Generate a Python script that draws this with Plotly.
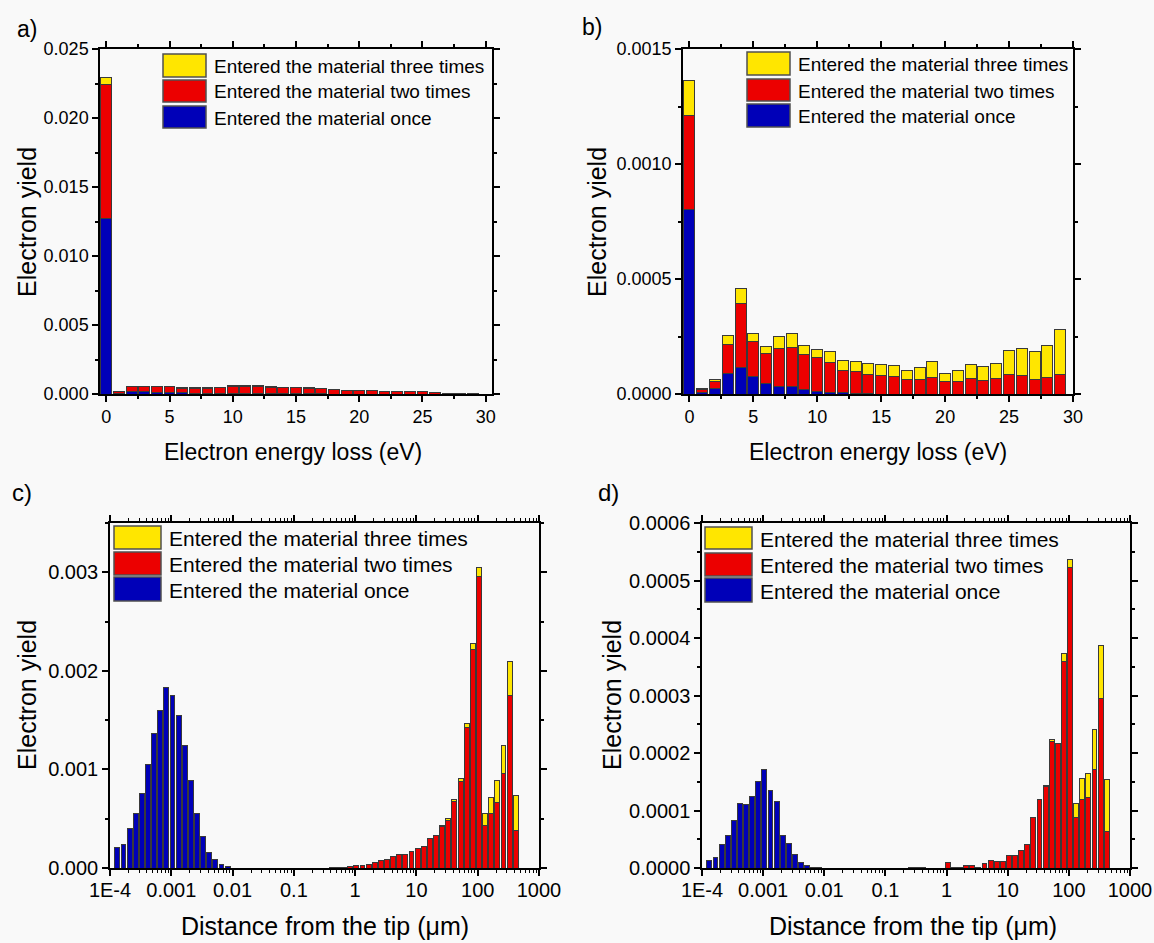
import math
import plotly.graph_objects as go

# ---------------- data ----------------
# Panels a / b : energy loss bins (eV)
energy_bins = list(range(30))

a_once = [0.0127, 0.00003, 0.00015, 0.00015, 0.00013, 0.00010, 0.00008, 0.00006, 0.00005, 0.00004,
          0.00004, 0.00003, 0.00003, 0.00002, 0.00001, 0.00001, 0.00001, 0.00001, 0.0, 0.0,
          0.0, 0.0, 0.0, 0.0, 0.0, 0.0, 0.0, 0.0, 0.0, 0.0]
a_twice = [0.00976, 0.00015, 0.00036, 0.00038, 0.00040, 0.00043, 0.00035, 0.00037, 0.00038, 0.00043,
           0.00051, 0.00054, 0.00054, 0.00048, 0.00043, 0.00043, 0.00039, 0.00037, 0.00030, 0.00026,
           0.00024, 0.00024, 0.00018, 0.00018, 0.00018, 0.00018, 0.00011, 0.00004, 0.00001, 0.00001]
a_thrice = [0.00044, 0.0, 0.00001, 0.00001, 0.00001, 0.00001, 0.00001, 0.00001, 0.00001, 0.00001,
            0.00005, 0.00003, 0.00003, 0.00002, 0.00002, 0.00002, 0.00006, 0.00002, 0.00002, 0.00002,
            0.00002, 0.00002, 0.00002, 0.00002, 0.00002, 0.00002, 0.00001, 0.00001, 0.0, 0.0]

b_once = [0.000801, 0.000005, 0.000026, 0.0000913, 0.000117, 0.0000754, 0.0000478, 0.0000319, 0.0000319, 0.0000188,
          0.0000116, 0.000007, 0.000006, 0.000002, 0.000001, 0.0, 0.0, 0.0, 0.0, 0.0,
          0.0, 0.0, 0.0, 0.0, 0.0, 0.0, 0.0, 0.0, 0.0, 0.0]
b_twice = [0.000408, 0.000015, 0.000029, 0.000122, 0.000276, 0.000153, 0.000130, 0.000168, 0.000172, 0.000152,
           0.000145, 0.000132, 0.000098, 0.0000966, 0.000083, 0.0000797, 0.0000768, 0.0000623, 0.0000652, 0.0000739,
           0.0000565, 0.0000522, 0.0000681, 0.000058, 0.0000667, 0.0000855, 0.0000797, 0.0000623, 0.0000696, 0.0000855]
b_thrice = [0.000155, 0.000006, 0.00001, 0.000041, 0.000066, 0.000034, 0.000029, 0.000048, 0.00006, 0.000041,
            0.000036, 0.000044, 0.000041, 0.0000424, 0.000048, 0.0000483, 0.0000482, 0.0000417, 0.0000508, 0.0000671,
            0.0000334, 0.0000488, 0.0000599, 0.000062, 0.0000653, 0.0001015, 0.0001163, 0.0001207, 0.0001424, 0.0001945]

# Panels c / d : distance bins, 0.1 decade wide; bin index k -> centre exponent
BIN0_EXP = -3.88
BIN_STEP = 0.1

c_once_bins = list(range(0, 19))
c_once = [0.00021, 0.000243, 0.000405, 0.000554, 0.00076, 0.00105, 0.001365, 0.0016, 0.001834, 0.001747,
          0.00155, 0.001243, 0.000889, 0.000554, 0.000321, 0.000162, 0.000088, 0.000034, 0.00002]
c_twice_bins = list(range(35, 66))
c_twice = [0.000003, 0.000007, 0.00001, 0.000017, 0.000027, 0.00003, 0.00004, 0.000057, 0.000078, 0.000088,
           0.000118, 0.000132, 0.000142, 0.000169, 0.000193, 0.00022, 0.0003, 0.000328, 0.000422, 0.000486,
           0.000672, 0.000878, 0.001422, 0.00222, 0.002953, 0.000436, 0.000551, 0.000666, 0.000963, 0.00175,
           0.000382]
c_thrice_bins = list(range(53, 66))
c_thrice = [0.000014, 0.000021, 0.000027, 0.000027, 0.000048, 0.00006, 0.0001, 0.000115, 0.000169, 0.000219,
            0.000277, 0.00035, 0.000358]

d_once_bins = list(range(0, 19))
d_once = [0.0000128, 0.0000186, 0.0000412, 0.0000562, 0.0000823, 0.000112, 0.000111, 0.000125, 0.000151, 0.000171,
          0.000135, 0.000115, 0.0000562, 0.0000423, 0.0000243, 0.0000099, 0.000004, 0.0000017, 0.0000006]
d_twice_bins = list(range(33, 66))
d_twice = [0.0000005, 0.0000005, 0.0000005, 0.0, 0.0, 0.0, 0.0000099, 0.0000006, 0.0000006, 0.0000035,
           0.0000052, 0.0000017, 0.000007, 0.0000128, 0.000011, 0.000011, 0.0000226, 0.0000226, 0.0000301, 0.0000412,
           0.000087, 0.000119, 0.000142, 0.00022, 0.000216, 0.000359, 0.000523, 0.000087, 0.000119, 0.000123,
           0.000171, 0.000294, 0.0000638]
d_thrice_bins = list(range(55, 66))
d_thrice = [0.000002, 0.000004, 0.0, 0.000014, 0.000014, 0.000025, 0.000036, 0.000041, 0.00007, 0.000093,
            0.00009]

series_names = ["Entered the material three times", "Entered the material two times", "Entered the material once"]
decade_labels = ["1E-4", "0.001", "0.01", "0.1", "1", "10", "100", "1000"]
decade_exps = [-4, -3, -2, -1, 0, 1, 2, 3]

# ---------------- style ----------------
W, H = 1154, 943
YELLOW = "#FFE600"
RED = "#EC0000"
BLUE = "#0000B8"
EDGE = "#3a3a3a"
FONT = "Liberation Sans, Arial, sans-serif"
BG = "#f9f9f9"


def px(x):
    return x / W


def py(y):
    return 1 - y / H


def bin_x(ks):
    return [round(BIN0_EXP + BIN_STEP * k, 3) for k in ks]


fig = go.Figure()

def add_bar(x, y, color, xa, ya, width):
    fig.add_trace(go.Bar(x=x, y=y, marker=dict(color=color, line=dict(color=EDGE, width=1)),
                         width=width, xaxis=xa, yaxis=ya, showlegend=False))

# panel a
add_bar(energy_bins, a_once, BLUE, "x", "y", 0.86)
add_bar(energy_bins, a_twice, RED, "x", "y", 0.86)
add_bar(energy_bins, a_thrice, YELLOW, "x", "y", 0.86)
# panel b
add_bar(energy_bins, b_once, BLUE, "x2", "y2", 0.86)
add_bar(energy_bins, b_twice, RED, "x2", "y2", 0.86)
add_bar(energy_bins, b_thrice, YELLOW, "x2", "y2", 0.86)
# panel c
add_bar(bin_x(c_once_bins), c_once, BLUE, "x3", "y3", 0.08)
add_bar(bin_x(c_twice_bins), c_twice, RED, "x3", "y3", 0.08)
add_bar(bin_x(c_thrice_bins), c_thrice, YELLOW, "x3", "y3", 0.08)
# panel d
add_bar(bin_x(d_once_bins), d_once, BLUE, "x4", "y4", 0.08)
add_bar(bin_x(d_twice_bins), d_twice, RED, "x4", "y4", 0.08)
add_bar(bin_x(d_thrice_bins), d_thrice, YELLOW, "x4", "y4", 0.08)


def axis_common(size):
    return dict(showline=True, linecolor="black", linewidth=1.5, mirror="allticks",
                ticks="outside", ticklen=6, tickwidth=1.5, tickcolor="black",
                showgrid=False, zeroline=False, automargin=False,
                tickfont=dict(family=FONT, size=size, color="black"))


def minor_lin(dt):
    return dict(dtick=dt, ticklen=3, ticks="outside", tickcolor="black", tickwidth=1.5)


minor_log = [e + math.log10(m) for e in range(-4, 3) for m in range(2, 10)]
minor_logd = dict(tickmode="array", tickvals=minor_log, ticklen=3, ticks="outside",
                  tickcolor="black", tickwidth=1.2)

TOP_TICK = 18
BOT_TICK = 20

layout_axes = {}
# a
layout_axes["xaxis"] = dict(axis_common(TOP_TICK), domain=[px(100), px(492)], anchor="y", range=[-0.5, 30.5],
                            tickmode="linear", tick0=0, dtick=5, minor=minor_lin(2.5))
layout_axes["yaxis"] = dict(axis_common(TOP_TICK), domain=[py(394), py(49)], anchor="x", range=[0, 0.025],
                            tickmode="linear", tick0=0, dtick=0.005, tickformat=".3f", minor=minor_lin(0.0025))
# b
layout_axes["xaxis2"] = dict(axis_common(TOP_TICK), domain=[px(683), px(1073)], anchor="y2", range=[-0.5, 30],
                             tickmode="linear", tick0=0, dtick=5, minor=minor_lin(2.5))
layout_axes["yaxis2"] = dict(axis_common(TOP_TICK), domain=[py(394), py(49)], anchor="x2", range=[0, 0.0015],
                             tickmode="linear", tick0=0, dtick=0.0005, tickformat=".4f", minor=minor_lin(0.00025))
# c
layout_axes["xaxis3"] = dict(axis_common(BOT_TICK), domain=[px(110), px(539)], anchor="y3", range=[-4, 3],
                             tickmode="array", tickvals=decade_exps, ticktext=decade_labels, minor=minor_logd,
                             ticklabelstandoff=-3)
layout_axes["yaxis3"] = dict(axis_common(BOT_TICK), domain=[py(868), py(523)], anchor="x3", range=[0, 0.0035],
                             tickmode="linear", tick0=0, dtick=0.001, tickformat=".3f", minor=minor_lin(0.0005))
# d
layout_axes["xaxis4"] = dict(axis_common(BOT_TICK), domain=[px(702), px(1130)], anchor="y4", range=[-4, 3],
                             tickmode="array", tickvals=decade_exps, ticktext=decade_labels, minor=minor_logd,
                             ticklabelstandoff=-3)
layout_axes["yaxis4"] = dict(axis_common(BOT_TICK), domain=[py(868), py(523)], anchor="x4", range=[0, 0.0006],
                             tickmode="linear", tick0=0, dtick=0.0001, tickformat=".4f", minor=minor_lin(0.00005))

shapes = []
annotations = []

def add_text(x, y, text, size, xanchor="center", angle=0):
    annotations.append(dict(x=px(x), y=py(y), xref="paper", yref="paper", text=text, showarrow=False,
                            font=dict(family=FONT, size=size, color="black"), xanchor=xanchor,
                            yanchor="middle", textangle=angle))

# legends (swatch x0, x1, rows y-ranges, text x, font size)
legend_specs = [
    (163, 206, [(54, 77), (80, 102), (106, 128)], 212, 19),
    (747, 790, [(52, 75), (79, 101), (104, 127)], 796, 19),
    (114, 161, [(526, 549), (552, 575), (577, 601)], 167, 21),
    (705, 752, [(527, 549), (553, 576), (578, 602)], 758, 21),
]
for x0, x1, rows, tx, fs in legend_specs:
    for (y0, y1), col, name in zip(rows, [YELLOW, RED, BLUE], series_names):
        shapes.append(dict(type="rect", xref="paper", yref="paper", x0=px(x0), x1=px(x1), y0=py(y1), y1=py(y0),
                           fillcolor=col, line=dict(color="#505050", width=1.5)))
        add_text(tx, (y0 + y1) / 2 + 1, name, fs, xanchor="left")

# panel labels
add_text(27, 29, "a)", 23)
add_text(592, 27, "b)", 23)
add_text(22, 492, "c)", 24)
add_text(608, 492, "d)", 24)

# axis titles
add_text(293, 452, "Electron energy loss (eV)", 23)
add_text(878, 452, "Electron energy loss (eV)", 23)
add_text(325, 926, "Distance from the tip (\u03bcm)", 25)
add_text(913, 926, "Distance from the tip (\u03bcm)", 25)
add_text(27, 222, "Electron yield", 25, angle=-90)
add_text(597, 222, "Electron yield", 25, angle=-90)
add_text(27, 695, "Electron yield", 25, angle=-90)
add_text(612, 695, "Electron yield", 25, angle=-90)

fig.update_layout(
    width=W, height=H, margin=dict(l=0, r=0, t=0, b=0),
    paper_bgcolor=BG, plot_bgcolor=BG, barmode="stack", showlegend=False,
    font=dict(family=FONT, size=17, color="black"),
    shapes=shapes, annotations=annotations, **layout_axes,
)

fig.write_html("out.html", config={"displayModeBar": False},
               post_script="document.body.style.margin='0px';document.body.style.padding='0px';"
                           "document.documentElement.style.overflow='hidden';")
